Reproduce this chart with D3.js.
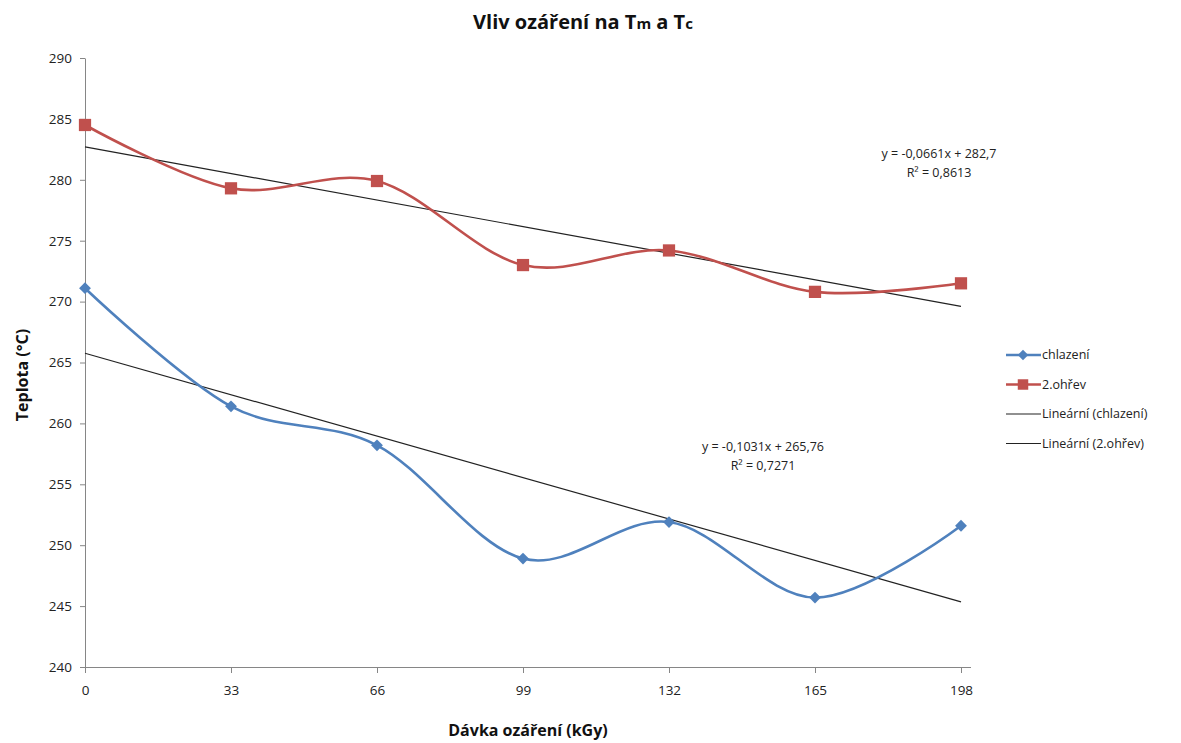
<!DOCTYPE html>
<html><head><meta charset="utf-8">
<script src="https://cdn.jsdelivr.net/npm/d3@7"></script>
<style>
body{margin:0;background:#fff;}
svg{font-family:"Open Sans","Liberation Sans",sans-serif;}
</style></head>
<body><svg id="c" width="1181" height="743"></svg>
<script>
const doses = [0, 33, 66, 99, 132, 165, 198];
const chlazeni = [271.1, 261.4, 258.2, 248.9, 251.9, 245.7, 251.6];
const ohrev = [284.5, 279.3, 279.9, 273.0, 274.2, 270.8, 271.5];
const trendChlazeni = {slope: -0.1031, intercept: 265.76};
const trendOhrev = {slope: -0.0661, intercept: 282.7};
const yTicks = [240, 245, 250, 255, 260, 265, 270, 275, 280, 285, 290];
const legendLabels = ["chlazení", "2.ohřev", "Lineární (chlazení)", "Lineární (2.ohřev)"];

const svg = d3.select("#c");
const x = d3.scaleLinear().domain([0, 198]).range([85, 961]);
const y = d3.scaleLinear().domain([240, 290]).range([667, 58]);
const blue = "#4F81BD", red = "#C0504D", axisCol = "#868686";

// axes
const yAxis = svg.append("g").attr("transform", "translate(85,0)")
  .call(d3.axisLeft(y).tickValues(yTicks).tickSize(5).tickSizeOuter(0).tickPadding(8));
const xAxis = svg.append("g").attr("transform", "translate(0,667)")
  .call(d3.axisBottom(x).tickValues(doses).tickSize(6).tickSizeOuter(0).tickPadding(12));
[yAxis, xAxis].forEach(g => {
  g.selectAll("line").attr("stroke", axisCol);
  g.select(".domain").attr("stroke", axisCol);
  g.selectAll("text").attr("font-size", 13.5).attr("fill", "#222").attr("font-family", "Open Sans, sans-serif");
});
xAxis.select(".domain").attr("d", `M85,0.5H971`);
yAxis.selectAll(".tick text").attr("dy", "0.32em");

// trend lines
function trend(t){ return doses.map(d => [d, t.intercept + t.slope * d]); }
const line = d3.line().x(d => x(d[0])).y(d => y(d[1]));
[trendChlazeni, trendOhrev].forEach(t => {
  svg.append("path").attr("d", line([trend(t)[0], trend(t)[doses.length-1]]))
    .attr("fill", "none").attr("stroke", "#222").attr("stroke-width", 1.2);
});

// series
const smooth = d3.line().x(d => x(d[0])).y(d => y(d[1])).curve(d3.curveCardinal.tension(0));
function series(vals, col, rot, size){
  const pts = doses.map((d, i) => [d, vals[i]]);
  svg.append("path").attr("d", smooth(pts)).attr("fill", "none")
    .attr("stroke", col).attr("stroke-width", 2.6);
  svg.append("g").selectAll("path").data(pts).join("path")
    .attr("transform", d => `translate(${x(d[0])},${y(d[1])}) rotate(${rot})`)
    .attr("d", d3.symbol().type(d3.symbolSquare).size(size)).attr("fill", col);
}
series(ohrev, red, 0, 150);
series(chlazeni, blue, 45, 70);

// equations
function eq(cx, cy, t1, t2){
  const g = svg.append("g").attr("font-size", 12.5).attr("fill", "#222").attr("text-anchor", "middle");
  g.append("text").attr("x", cx).attr("y", cy).text(t1);
  g.append("text").attr("x", cx).attr("y", cy + 19).text(t2);
}
eq(939, 158, "y = -0,0661x + 282,7", "R² = 0,8613");
eq(763, 451, "y = -0,1031x + 265,76", "R² = 0,7271");

// title
const title = svg.append("text").attr("x", 583).attr("y", 29).attr("text-anchor", "middle")
  .attr("font-size", 20).attr("font-weight", "bold").attr("fill", "#111");
title.append("tspan").text("Vliv ozáření na T");
title.append("tspan").attr("font-size", 15).text("m");
title.append("tspan").text(" a T");
title.append("tspan").attr("font-size", 15).text("c");

// axis titles
svg.append("text").attr("transform", "translate(28,375) rotate(-90)").attr("text-anchor", "middle")
  .attr("font-size", 16).attr("font-weight", "bold").attr("fill", "#111").text("Teplota (°C)");
svg.append("text").attr("x", 528).attr("y", 736).attr("text-anchor", "middle")
  .attr("font-size", 16).attr("font-weight", "bold").attr("fill", "#111").text("Dávka ozáření (kGy)");

// legend
const lg = svg.append("g");
const legendRows = [
  {col: blue, rot: 45, size: 55, w: 2.6},
  {col: red, rot: 0, size: 110, w: 2.6},
  {col: "#222", size: 0, w: 1.2},
  {col: "#222", size: 0, w: 1.2}
];
legendLabels.forEach((lab, i) => {
  const yy = 355 + i * 29.5;
  lg.append("line").attr("x1", 1006).attr("x2", 1041).attr("y1", yy).attr("y2", yy)
    .attr("stroke", legendRows[i].col).attr("stroke-width", legendRows[i].w);
  if (legendRows[i].size) lg.append("path").attr("transform", `translate(1023,${yy}) rotate(${legendRows[i].rot})`)
    .attr("d", d3.symbol().type(d3.symbolSquare).size(legendRows[i].size)).attr("fill", legendRows[i].col);
  lg.append("text").attr("x", 1042).attr("y", yy).attr("dy", "0.35em")
    .attr("font-size", 12.5).attr("fill", "#222").text(lab);
});
</script></body></html>
